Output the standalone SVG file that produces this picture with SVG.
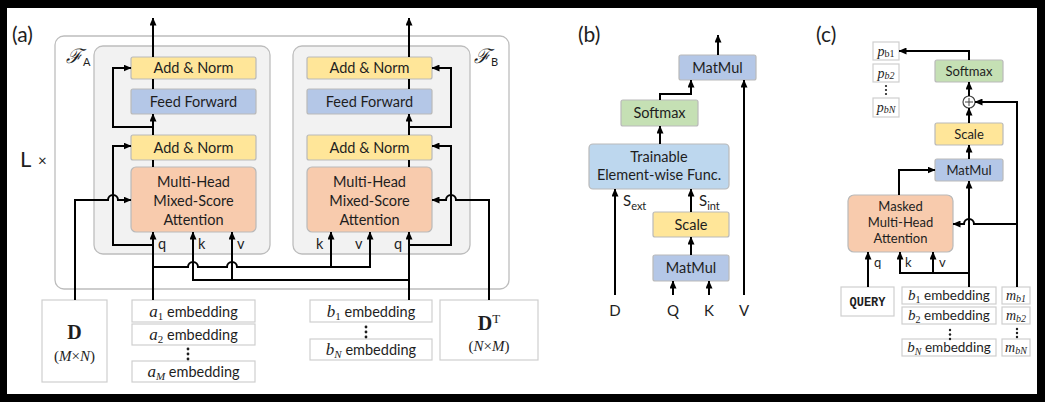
<svg xmlns="http://www.w3.org/2000/svg" width="1045" height="402" viewBox="0 0 1045 402">
<defs>
<marker id="ah" markerUnits="userSpaceOnUse" markerWidth="8" markerHeight="7" refX="7.5" refY="3.5" orient="auto">
<path d="M0,0 L8,3.5 L0,7 z" fill="#000"/>
</marker>
<style>
.t{font-family:Lato,"Open Sans","Liberation Sans",sans-serif;fill:#1e1e1e;text-anchor:middle}
.m{font-family:"Liberation Serif","DejaVu Serif",serif;font-style:italic;fill:#1e1e1e}
.yel{fill:#ffe699;stroke:#b9b9b9;stroke-width:1.2}
.blu{fill:#b4c7e7;stroke:#b9b9b9;stroke-width:1.2}
.lbl{fill:#bdd7ee;stroke:#b9b9b9;stroke-width:1.2}
.grn{fill:#c5e0b4;stroke:#b9b9b9;stroke-width:1.2}
.org{fill:#f8cbad;stroke:#b9b9b9;stroke-width:1.2}
.inp{fill:#fff;stroke:#cfcfcf;stroke-width:1.2}
.c path{fill:none;stroke:#000;stroke-width:2}
.c .a{marker-end:url(#ah)}
</style>
</defs>
<rect x="0" y="0" width="1045" height="402" fill="#000"/>
<rect x="7" y="8" width="1030" height="386" fill="#fff"/>

<!-- panel labels -->
<text x="12" y="42" style="font-family:Lato,'Open Sans',sans-serif;font-size:21px;fill:#1e1e1e">(a)</text>
<text x="578" y="42" style="font-family:Lato,'Open Sans',sans-serif;font-size:21px;fill:#1e1e1e">(b)</text>
<text x="816" y="42" style="font-family:Lato,'Open Sans',sans-serif;font-size:21px;fill:#1e1e1e">(c)</text>

<!-- panel (a) containers -->
<g id="outer">
<rect x="55" y="36" width="454" height="253" rx="9" fill="#fff" stroke="#bdbdbd" stroke-width="1.3"/>
<text x="20" y="167" style="font-family:Lato,'Open Sans',sans-serif;font-size:22px;fill:#1e1e1e">L</text>
<text x="38" y="166" style="font-family:Lato,'Open Sans',sans-serif;font-size:15px;fill:#1e1e1e">×</text>
</g>
<g id="FA">
<rect x="94" y="46" width="176" height="208" rx="9" fill="#f2f2f2" stroke="#bdbdbd" stroke-width="1.3"/>
<text x="66" y="63" style="font-family:'DejaVu Serif',serif;font-style:italic;font-size:20px;fill:#1e1e1e">ℱ</text>
<text x="83" y="66" style="font-family:Lato,sans-serif;font-size:11px;fill:#1e1e1e">A</text>
</g>
<g id="FB">
<rect x="293" y="46" width="177" height="208" rx="9" fill="#f2f2f2" stroke="#bdbdbd" stroke-width="1.3"/>
<text x="474" y="63" style="font-family:'DejaVu Serif',serif;font-style:italic;font-size:20px;fill:#1e1e1e">ℱ</text>
<text x="491" y="66" style="font-family:Lato,sans-serif;font-size:11px;fill:#1e1e1e">B</text>
</g>

<!-- F_A nodes -->
<g id="A_addnorm2"><rect class="yel" x="131" y="57" width="125" height="22" rx="2"/><text class="t" x="193.5" y="73" font-size="14.5">Add &amp; Norm</text></g>
<g id="A_ff"><rect class="blu" x="131" y="89" width="125" height="25" rx="2"/><text class="t" x="193.5" y="106.5" font-size="14.5">Feed Forward</text></g>
<g id="A_addnorm1"><rect class="yel" x="131" y="135" width="125" height="25" rx="2"/><text class="t" x="193.5" y="152.5" font-size="14.5">Add &amp; Norm</text></g>
<g id="A_mha"><rect class="org" x="131" y="167" width="125" height="65" rx="5"/>
<text class="t" x="193.5" y="187" font-size="14.5">Multi-Head</text>
<text class="t" x="193.5" y="206" font-size="14.5">Mixed-Score</text>
<text class="t" x="193.5" y="225" font-size="14.5">Attention</text></g>

<!-- F_B nodes -->
<g id="B_addnorm2"><rect class="yel" x="307" y="57" width="125" height="22" rx="2"/><text class="t" x="369.5" y="73" font-size="14.5">Add &amp; Norm</text></g>
<g id="B_ff"><rect class="blu" x="307" y="89" width="125" height="25" rx="2"/><text class="t" x="369.5" y="106.5" font-size="14.5">Feed Forward</text></g>
<g id="B_addnorm1"><rect class="yel" x="307" y="135" width="125" height="25" rx="2"/><text class="t" x="369.5" y="152.5" font-size="14.5">Add &amp; Norm</text></g>
<g id="B_mha"><rect class="org" x="307" y="167" width="125" height="65" rx="5"/>
<text class="t" x="369.5" y="187" font-size="14.5">Multi-Head</text>
<text class="t" x="369.5" y="206" font-size="14.5">Mixed-Score</text>
<text class="t" x="369.5" y="225" font-size="14.5">Attention</text></g>

<!-- q k v labels (a) -->
<g id="qkv_a" class="t" style="font-size:14.5px;text-anchor:start">
<text x="158" y="249">q</text><text x="198" y="249">k</text><text x="237" y="249">v</text>
<text x="316" y="249">k</text><text x="355" y="249">v</text><text x="394" y="249">q</text>
</g>

<!-- inputs (a) -->
<g id="D">
<rect class="inp" x="42" y="300" width="65" height="82"/>
<text x="74.5" y="339" style="font-family:'Liberation Serif',serif;font-weight:bold;font-size:20px;fill:#1e1e1e;text-anchor:middle">D</text>
<text x="74.5" y="361" style="font-family:'Liberation Serif',serif;font-size:15px;fill:#1e1e1e;text-anchor:middle">(<tspan font-style="italic">M</tspan>×<tspan font-style="italic">N</tspan>)</text>
</g>
<g id="a_emb">
<rect class="inp" x="132" y="300" width="123" height="22"/>
<rect class="inp" x="132" y="324" width="123" height="21"/>
<rect class="inp" x="132" y="361" width="123" height="21"/>
<text x="193.5" y="316.5" style="font-family:Lato,sans-serif;font-size:14.5px;fill:#1e1e1e;text-anchor:middle"><tspan style="font-family:'Liberation Serif',serif;font-style:italic;font-size:17px">a</tspan><tspan style="font-family:'Liberation Serif',serif;font-size:11px" dy="3">1</tspan><tspan dy="-3"> embedding</tspan></text>
<text x="193.5" y="340" style="font-family:Lato,sans-serif;font-size:14.5px;fill:#1e1e1e;text-anchor:middle"><tspan style="font-family:'Liberation Serif',serif;font-style:italic;font-size:17px">a</tspan><tspan style="font-family:'Liberation Serif',serif;font-size:11px" dy="3">2</tspan><tspan dy="-3"> embedding</tspan></text>
<text x="193.5" y="377" style="font-family:Lato,sans-serif;font-size:14.5px;fill:#1e1e1e;text-anchor:middle"><tspan style="font-family:'Liberation Serif',serif;font-style:italic;font-size:17px">a</tspan><tspan style="font-family:'Liberation Serif',serif;font-style:italic;font-size:11px" dy="3">M</tspan><tspan dy="-3"> embedding</tspan></text>
<g fill="#1e1e1e"><circle cx="188" cy="349" r="1.4"/><circle cx="188" cy="354" r="1.4"/><circle cx="188" cy="359" r="1.4"/></g>
</g>
<g id="b_emb">
<rect class="inp" x="310" y="300" width="122" height="22"/>
<rect class="inp" x="310" y="339" width="122" height="21"/>
<text x="371" y="316.5" style="font-family:Lato,sans-serif;font-size:14.5px;fill:#1e1e1e;text-anchor:middle"><tspan style="font-family:'Liberation Serif',serif;font-style:italic;font-size:17px">b</tspan><tspan style="font-family:'Liberation Serif',serif;font-size:11px" dy="3">1</tspan><tspan dy="-3"> embedding</tspan></text>
<text x="371" y="355" style="font-family:Lato,sans-serif;font-size:14.5px;fill:#1e1e1e;text-anchor:middle"><tspan style="font-family:'Liberation Serif',serif;font-style:italic;font-size:17px">b</tspan><tspan style="font-family:'Liberation Serif',serif;font-style:italic;font-size:11px" dy="3">N</tspan><tspan dy="-3"> embedding</tspan></text>
<g fill="#1e1e1e"><circle cx="366" cy="327" r="1.4"/><circle cx="366" cy="332" r="1.4"/><circle cx="366" cy="337" r="1.4"/></g>
</g>
<g id="DT">
<rect class="inp" x="440" y="300" width="98" height="60"/>
<text x="489" y="330" style="font-family:'Liberation Serif',serif;font-weight:bold;font-size:20px;fill:#1e1e1e;text-anchor:middle">D<tspan font-weight="normal" font-size="13" dy="-7">T</tspan></text>
<text x="489" y="351" style="font-family:'Liberation Serif',serif;font-size:15px;fill:#1e1e1e;text-anchor:middle">(<tspan font-style="italic">N</tspan>×<tspan font-style="italic">M</tspan>)</text>
</g>

<!-- panel (b) nodes -->
<g id="b_matmul2"><rect class="blu" x="679" y="55" width="77" height="25" rx="2"/><text class="t" x="717.5" y="72.5" font-size="14.5">MatMul</text></g>
<g id="b_softmax"><rect class="grn" x="621" y="100" width="77" height="26" rx="2"/><text class="t" x="659.5" y="118" font-size="14.5">Softmax</text></g>
<g id="b_func"><rect class="lbl" x="589" y="144" width="140" height="45" rx="4"/>
<text class="t" x="659" y="162" font-size="14.5">Trainable</text>
<text class="t" x="659" y="180" font-size="14.5">Element-wise Func.</text></g>
<g id="b_scale"><rect class="yel" x="653" y="212" width="76" height="25" rx="2"/><text class="t" x="691" y="229.5" font-size="14.5">Scale</text></g>
<g id="b_matmul1"><rect class="blu" x="653" y="255" width="76" height="26" rx="2"/><text class="t" x="691" y="273" font-size="14.5">MatMul</text></g>
<g id="b_labels" style="font-family:Lato,'Open Sans',sans-serif;fill:#1e1e1e;font-size:15px">
<text x="623" y="206">S<tspan font-size="11" dy="4">ext</tspan></text>
<text x="699" y="206">S<tspan font-size="11" dy="4">int</tspan></text>
<text x="615" y="316" text-anchor="middle">D</text>
<text x="673" y="316" text-anchor="middle">Q</text>
<text x="709" y="316" text-anchor="middle">K</text>
<text x="744" y="316" text-anchor="middle">V</text>
</g>

<!-- panel (c) nodes -->
<g id="c_p">
<rect class="inp" x="873" y="42" width="26" height="18"/>
<rect class="inp" x="873" y="64" width="26" height="18"/>
<rect class="inp" x="873" y="98" width="26" height="19"/>
<text class="m" x="886" y="56" font-size="14" text-anchor="middle">p<tspan font-style="normal" font-size="10" dy="1">b1</tspan></text>
<text class="m" x="886" y="78" font-size="14" text-anchor="middle">p<tspan font-size="10" dy="1">b2</tspan></text>
<text class="m" x="886" y="112" font-size="14" text-anchor="middle">p<tspan font-size="10" dy="1">bN</tspan></text>
<g fill="#1e1e1e"><circle cx="886" cy="86" r="1.1"/><circle cx="886" cy="90" r="1.1"/><circle cx="886" cy="94" r="1.1"/></g>
</g>
<g id="c_softmax"><rect class="grn" x="935" y="60" width="68" height="22" rx="2"/><text class="t" x="969" y="75.5" font-size="13">Softmax</text></g>
<g id="c_plus"><circle cx="969" cy="102" r="6" fill="#fff" stroke="#444" stroke-width="1.2"/><path d="M965,102 H973 M969,98 V106" stroke="#444" stroke-width="1"/></g>
<g id="c_scale"><rect class="yel" x="935" y="123" width="68" height="22" rx="2"/><text class="t" x="969" y="138.5" font-size="13">Scale</text></g>
<g id="c_matmul"><rect class="blu" x="935" y="159" width="68" height="22" rx="2"/><text class="t" x="969" y="174.5" font-size="13">MatMul</text></g>
<g id="c_mha"><rect class="org" x="848" y="195" width="105" height="57" rx="6"/>
<text class="t" x="900.5" y="211" font-size="13">Masked</text>
<text class="t" x="900.5" y="227" font-size="13">Multi-Head</text>
<text class="t" x="900.5" y="243" font-size="13">Attention</text></g>
<g id="c_qkv" style="font-family:Lato,sans-serif;fill:#1e1e1e;font-size:13px">
<text x="874" y="267">q</text><text x="905" y="267">k</text><text x="939" y="267">v</text>
</g>
<g id="c_query"><rect class="inp" x="841" y="287" width="53" height="29"/>
<text x="867.5" y="306" style="font-family:'Liberation Mono',monospace;font-weight:bold;font-size:12px;fill:#1e1e1e;text-anchor:middle">QUERY</text></g>
<g id="c_emb">
<rect class="inp" x="902" y="287" width="94" height="17"/>
<rect class="inp" x="902" y="307" width="94" height="17"/>
<rect class="inp" x="902" y="339" width="94" height="17"/>
<text x="949" y="300" style="font-family:Lato,sans-serif;font-size:13.5px;fill:#1e1e1e;text-anchor:middle"><tspan style="font-family:'Liberation Serif',serif;font-style:italic;font-size:15px">b</tspan><tspan style="font-family:'Liberation Serif',serif;font-size:10px" dy="3">1</tspan><tspan dy="-3"> embedding</tspan></text>
<text x="949" y="320" style="font-family:Lato,sans-serif;font-size:13.5px;fill:#1e1e1e;text-anchor:middle"><tspan style="font-family:'Liberation Serif',serif;font-style:italic;font-size:15px">b</tspan><tspan style="font-family:'Liberation Serif',serif;font-size:10px" dy="3">2</tspan><tspan dy="-3"> embedding</tspan></text>
<text x="949" y="352" style="font-family:Lato,sans-serif;font-size:13.5px;fill:#1e1e1e;text-anchor:middle"><tspan style="font-family:'Liberation Serif',serif;font-style:italic;font-size:15px">b</tspan><tspan style="font-family:'Liberation Serif',serif;font-style:italic;font-size:10px" dy="3">N</tspan><tspan dy="-3"> embedding</tspan></text>
<g fill="#1e1e1e"><circle cx="950" cy="330" r="1.2"/><circle cx="950" cy="334.5" r="1.2"/><circle cx="950" cy="339" r="1.2"/></g>
</g>
<g id="c_mask">
<rect class="inp" x="1002" y="287" width="28" height="17"/>
<rect class="inp" x="1002" y="307" width="28" height="17"/>
<rect class="inp" x="1002" y="339" width="28" height="17"/>
<text class="m" x="1016" y="300" font-size="14" text-anchor="middle">m<tspan font-size="10" dy="2">b1</tspan></text>
<text class="m" x="1016" y="320" font-size="14" text-anchor="middle">m<tspan font-size="10" dy="2">b2</tspan></text>
<text class="m" x="1016" y="352" font-size="14" text-anchor="middle">m<tspan font-size="10" dy="2">bN</tspan></text>
<g fill="#1e1e1e"><circle cx="1017" cy="329" r="1.2"/><circle cx="1017" cy="333" r="1.2"/><circle cx="1017" cy="337" r="1.2"/></g>
</g>

<!-- connectors -->
<g id="connectors" class="c">
<!-- F_A -->
<path class="a" d="M153,57 V18"/>
<path d="M153,89 V79"/>
<path class="a" d="M153,135 V114"/>
<path class="a" d="M153,127 H113 V68 H131"/>
<path d="M153,167 V160"/>
<path class="a" d="M153,300 V232"/>
<path class="a" d="M153,245 H113 V146 H131"/>
<path class="a" d="M75,300 V200 H108 A5,5 0 0 1 118,200 H131"/>
<!-- cross connections -->
<path class="a" d="M153,267 H188 A5,5 0 0 1 198,267 H227 A5,5 0 0 1 237,267 H370 V232"/>
<path class="a" d="M331,267 V232"/>
<path class="a" d="M409,280 H193 V232"/>
<path class="a" d="M232,280 V232"/>
<!-- F_B -->
<path class="a" d="M409,300 V232"/>
<path d="M409,167 V160"/>
<path class="a" d="M409,135 V114"/>
<path d="M409,89 V79"/>
<path class="a" d="M409,57 V18"/>
<path class="a" d="M409,127 H451 V68 H432"/>
<path class="a" d="M409,245 H451 V146 H432"/>
<path class="a" d="M489,300 V200 H456 A5,5 0 0 0 446,200 H432"/>
<!-- panel b -->
<path class="a" d="M718,55 V35"/>
<path class="a" d="M660,100 V94 H691 V80"/>
<path class="a" d="M660,144 V126"/>
<path class="a" d="M615,295 V189"/>
<path class="a" d="M691,212 V189"/>
<path class="a" d="M691,255 V237"/>
<path class="a" d="M673,295 V281"/>
<path class="a" d="M709,295 V281"/>
<path class="a" d="M744,295 V80"/>
<!-- panel c -->
<path class="a" d="M969,60 V51 H899"/>
<path class="a" d="M969,96 V82"/>
<path class="a" d="M1017,287 V102 H975"/>
<path class="a" d="M969,123 V108"/>
<path class="a" d="M969,159 V145"/>
<path class="a" d="M899,195 V170 H935"/>
<path class="a" d="M969,287 V181"/>
<path class="a" d="M1017,224 H974 A5,5 0 0 0 964,224 H953"/>
<path class="a" d="M868,287 V252"/>
<path class="a" d="M969,273 H900 V252"/>
<path class="a" d="M933,273 V252"/>
</g>
</svg>
